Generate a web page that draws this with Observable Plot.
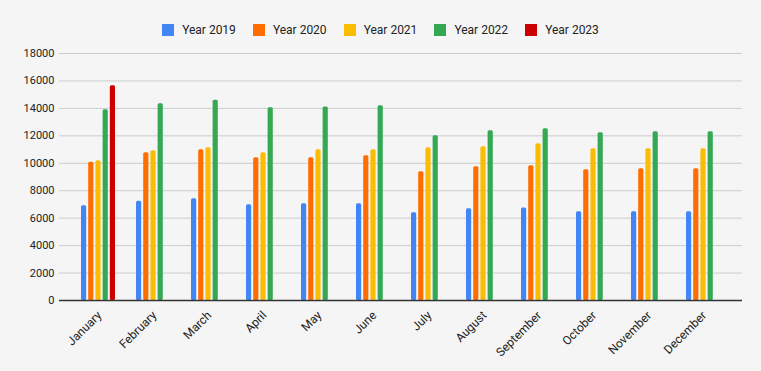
<!DOCTYPE html>
<html><head><meta charset="utf-8">
<script src="https://cdn.jsdelivr.net/npm/d3@7"></script>
<script src="https://cdn.jsdelivr.net/npm/@observablehq/plot@0.6"></script>
<style>
html,body{margin:0;padding:0;background:#f5f5f5;font-family:Roboto,sans-serif;}
#legend{height:40px;box-sizing:border-box;padding-top:20px;display:flex;justify-content:center;gap:17px;font-size:12px;color:#222;line-height:12px;}
#legend .item{display:flex;align-items:center;}
#legend .sw{width:12px;height:12px;margin-right:8px;}
svg{display:block;}
</style></head>
<body>
<div id="legend"></div>
<div id="chart"></div>
<script>
const months = ["January","February","March","April","May","June","July","August","September","October","November","December"];
const series = ["Year 2019","Year 2020","Year 2021","Year 2022","Year 2023"];
const colors = ["#4285f4","#ff6d01","#fbbc04","#34a853","#cc0000"];
const y2019 = [6900, 7240, 7410, 6970, 7050, 7050, 6390, 6680, 6750, 6460, 6460, 6460];
const y2020 = [10080, 10760, 10980, 10400, 10400, 10540, 9380, 9740, 9820, 9530, 9600, 9600];
const y2021 = [10180, 10910, 11130, 10760, 10980, 10980, 11130, 11200, 11420, 11060, 11060, 11060];
const y2022 = [13900, 14330, 14600, 14040, 14110, 14190, 12000, 12370, 12510, 12220, 12300, 12300];
const y2023 = [15650, null, null, null, null, null, null, null, null, null, null, null];
const yTicks = [0, 2000, 4000, 6000, 8000, 10000, 12000, 14000, 16000, 18000];

const allSeries = [y2019, y2020, y2021, y2022, y2023];

// legend
const leg = document.getElementById("legend");
series.forEach((s, i) => {
  const it = document.createElement("div"); it.className = "item";
  const sw = document.createElement("div"); sw.className = "sw"; sw.style.background = colors[i];
  const t = document.createElement("span"); t.textContent = s;
  it.appendChild(sw); it.appendChild(t); leg.appendChild(it);
});

const W = 761, ML = 59, MR = 19;
const paddingInner = 0.384, paddingOuter = 0.378;
const step = (W - ML - MR) / (months.length - paddingInner + 2 * paddingOuter);
const group = step * (1 - paddingInner);
const slot = group / (series.length - 0.28);
const barW = slot * 0.72;

const barMarks = allSeries.map((arr, s) => {
  const rows = months.map((m, i) => ({month: m, series: series[s], value: arr[i]})).filter(d => d.value != null);
  return Plot.barY(rows, {
    x: "month", y: "value", fill: "series", rx: 1.5,
    insetLeft: s * slot, insetRight: group - s * slot - barW
  });
});

const chart = Plot.plot({
  width: W,
  height: 331,
  marginTop: 13,
  marginBottom: 71,
  marginLeft: ML,
  marginRight: MR,
  style: {background: "transparent", fontFamily: "Roboto, sans-serif", color: "#222"},
  x: {domain: months, paddingInner, paddingOuter},
  y: {domain: [0, 18000]},
  color: {domain: series, range: colors},
  marks: [
    Plot.ruleY(yTicks, {y: d => d, stroke: "#cccccc", strokeWidth: 1}),
    ...barMarks,
    Plot.ruleY([0], {stroke: "#333", strokeWidth: 1.5}),
    Plot.axisY({ticks: yTicks, tickSize: 0, tickPadding: 5, label: null, fontSize: 11, tickFormat: d => String(d)}),
    Plot.axisX({tickRotate: -45, tickSize: 0, label: null, fontSize: 12, dx: 1, dy: 1})
  ]
});
document.getElementById("chart").appendChild(chart);
</script>
</body></html>
